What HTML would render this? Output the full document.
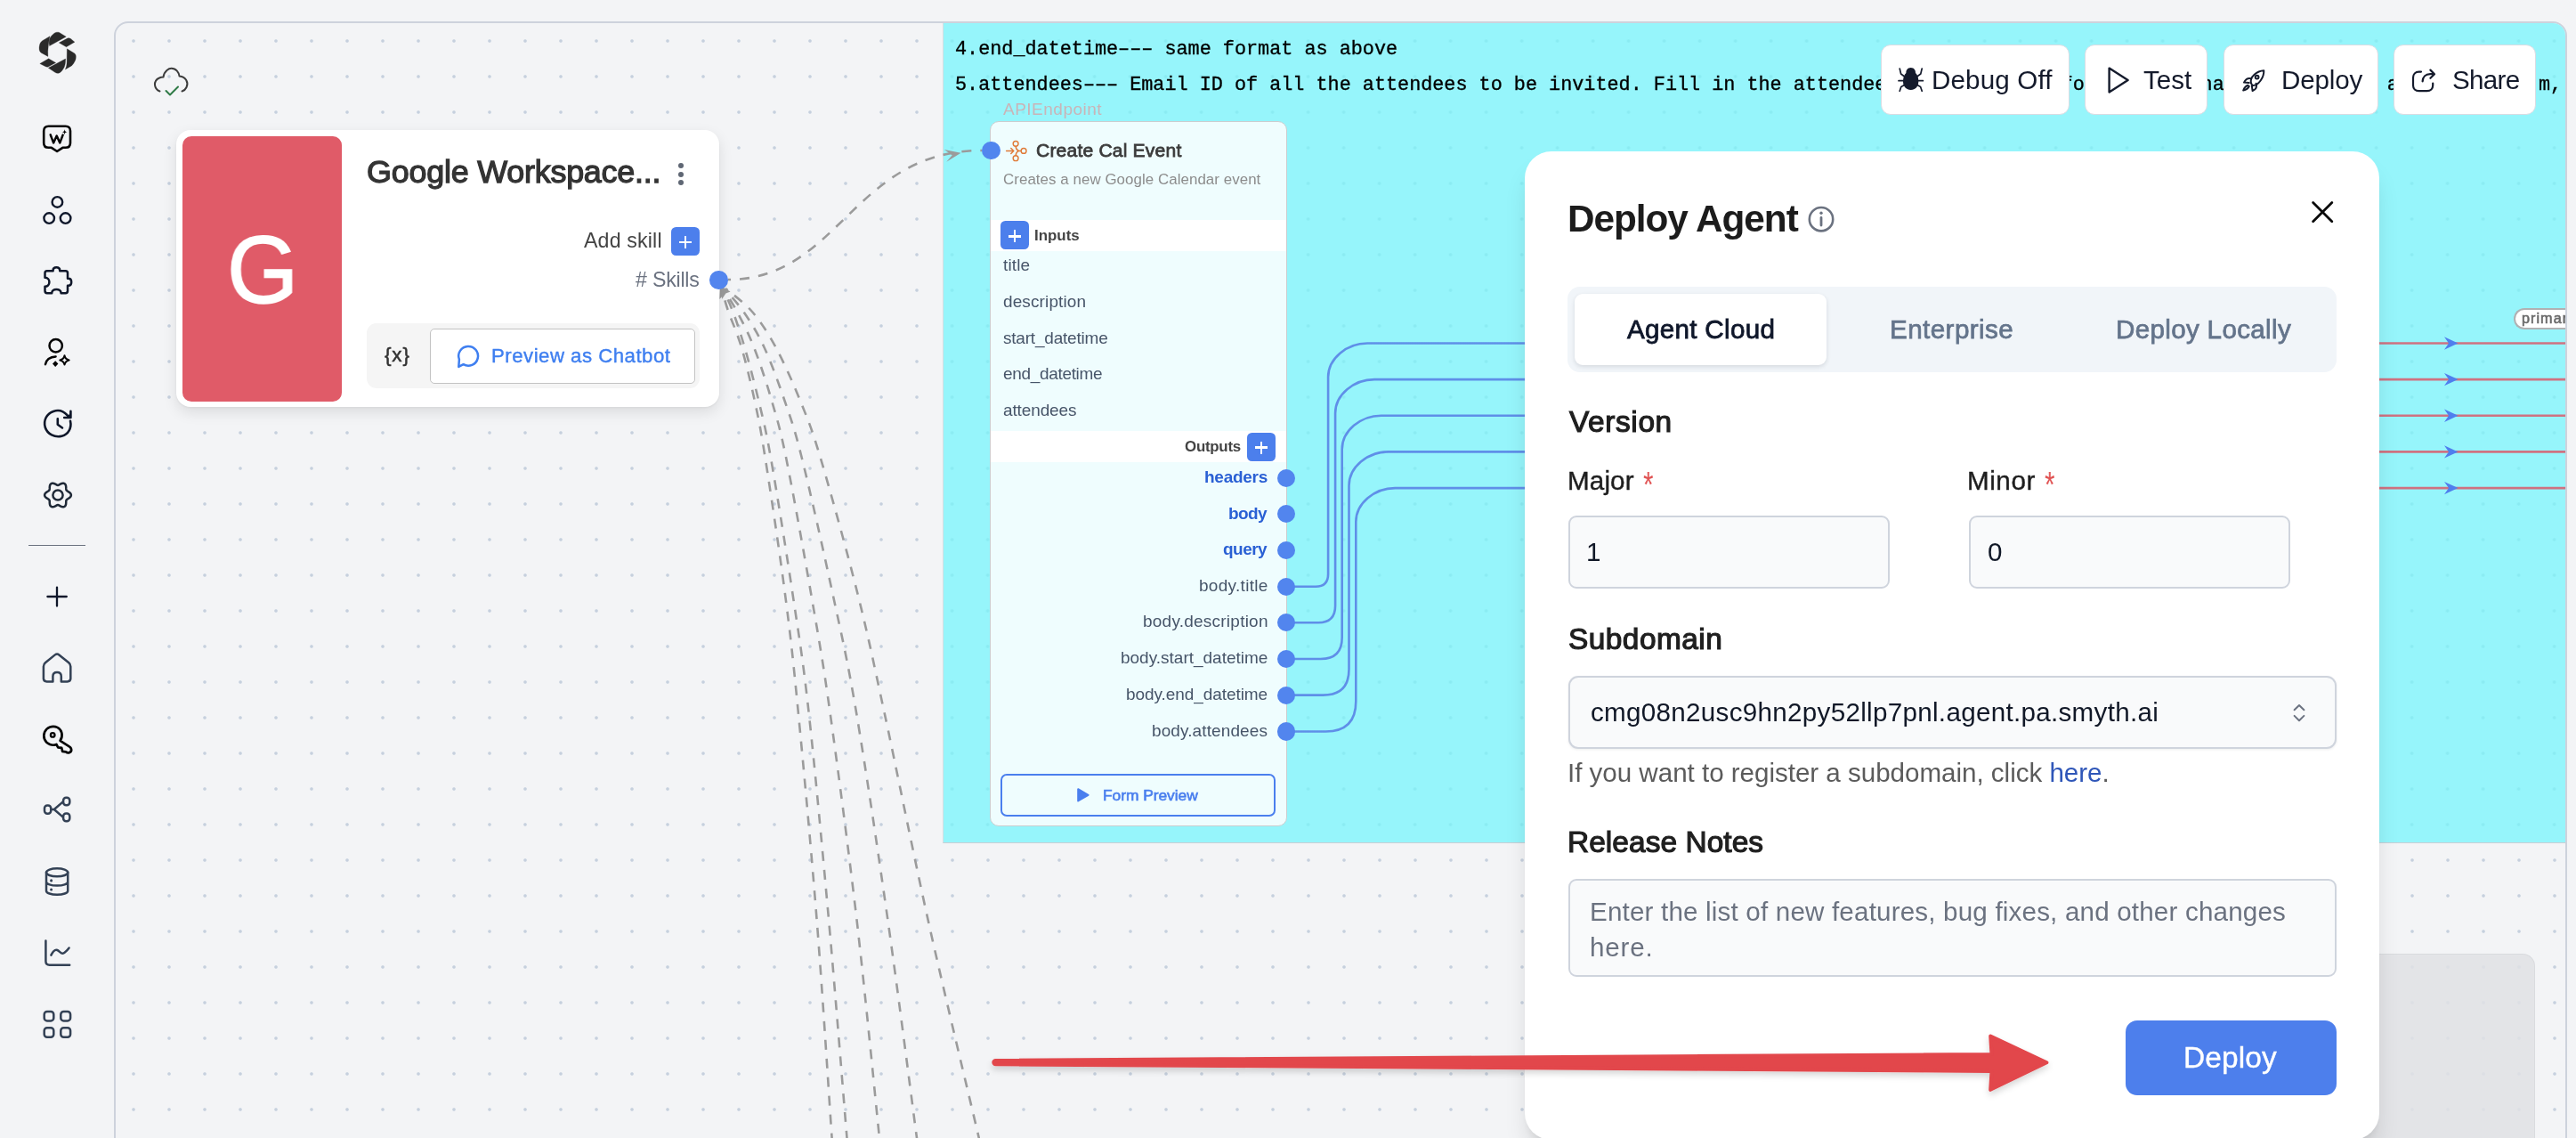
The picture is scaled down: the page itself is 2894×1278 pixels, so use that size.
<!DOCTYPE html>
<html><head><meta charset="utf-8"><title>Deploy Agent</title>
<style>
*{box-sizing:border-box;margin:0;padding:0}
html,body{width:2894px;height:1278px;overflow:hidden;background:#f3f4f6;font-family:"Liberation Sans",sans-serif}
.abs,.t,svg.ov{position:absolute}
.t{white-space:pre;line-height:normal;font-family:"Liberation Sans",sans-serif;will-change:transform}
.m{font-family:"Liberation Mono",monospace;-webkit-text-stroke:.35px #000}
#canvas{position:absolute;left:128px;top:24px;width:2756px;height:1320px;border:2px solid #cdd2dc;border-radius:16px;overflow:hidden;
 background-color:#f3f4f6;background-image:radial-gradient(circle at 20px 20px,#c6d0de 0,#c6d0de 1.25px,rgba(198,208,222,0) 2.3px);background-size:40px 40px}
#note{position:absolute;left:929.4px;top:0;width:1830px;height:921px;border-left:1px solid #d9dde2;border-bottom:1px solid #c9ced4;
 background-color:#96f5fb;background-image:radial-gradient(circle at 20px 20px,#8aebf2 0,#8aebf2 1.25px,rgba(138,235,242,0) 2.3px);background-size:40px 40px;background-position:-10.4px 0}
.card{background:#fff;border-radius:16px;box-shadow:0 6px 16px rgba(0,0,0,.10),0 1px 3px rgba(0,0,0,.06)}
.blue{background:#4d7fec}
.dot{position:absolute;width:20.5px;height:20.5px;border-radius:50%;background:#5285ee}
.plus{position:absolute;width:32.4px;height:32px;border-radius:5.5px;background:#4c7fec}
.plus:before,.plus:after{content:"";position:absolute;background:#fff;left:50%;top:50%}
.plus:before{width:14px;height:2.4px;margin:-0.2px 0 0 -7px}
.plus:after{width:2.4px;height:14px;margin:-6px 0 0 -1.2px}
.tb{position:absolute;top:50.4px;height:79px;background:#fff;border:1.5px solid #d9dce3;border-radius:11px}
.inp{position:absolute;background:#f9fafb;border:2px solid #cfd4dd;border-radius:9px}
</style></head><body>
<div id="canvas"><div id="note"></div></div>
<span class="t m" style="left:1073.00px;top:42.94px;font-size:21.8px;color:#000;">4.end_datetime&#8211;&#8211;&#8211; same format as above</span>
<span class="t m" style="left:1073.00px;top:82.84px;font-size:21.8px;color:#000;">5.attendees&#8211;&#8211;&#8211; Email ID of all the attendees to be invited. Fill in the attendees email in the format like name@gmail.com, abcd@gmail.c m,</span>
<svg class="ov" style="left:0;top:0" width="128" height="1278" viewBox="0 0 128 1278">
<!-- logo -->
<g fill="#2a2a2a" stroke="#2a2a2a" stroke-width=".3" stroke-linejoin="round">
<path d="M55.6 51.6 C54.4 46.8 55.4 43.2 57.4 40.8 C59.4 38.4 61.2 37 62.6 36.5 C64 36 65.6 36 66.6 36.5 L74.3 41.2 Z"/>
<path d="M66.3 48 L75.7 43.1 C77 42.6 78.4 42.8 79.4 43.5 L83.9 47.2 L74.5 52.7 Z"/>
<path d="M75.3 54.8 L83 59.4 C84.6 60.4 85.3 61.6 85.3 63.4 C85.3 65.6 85 67 84.2 68.6 C83.2 70.8 82 72.6 80.4 73.9 L73.3 78 C74.6 75.2 75 72.6 75.1 70 Z"/>
<path d="M73.6 66 C73.6 69 73.4 71.4 72.8 73.6 C72 76.4 70.8 78.2 69.2 79.9 C67.8 81.3 66.4 82.2 64.8 82.3 C63.8 82.3 62.8 81.9 61.8 81.3 L54.3 76.3 Z"/>
<path d="M44.8 71.5 L54.6 65.8 L62.7 70.5 L54.2 75 C53.2 75.4 52.2 75.2 51.2 74.7 Z"/>
<path d="M56 40.7 L47.6 45.7 C46 46.8 45 48.4 44.5 50.6 C44 52.6 44 54.4 44.2 56 C44.5 57.6 45.2 58.6 46.6 59.4 L53.9 63.4 C53.6 59.4 53.7 55.4 54.3 51.4 C54.6 47.8 55.2 44.2 56 40.7 Z"/>
</g>
<!-- W chat -->
<g fill="none" stroke-linecap="round" stroke-linejoin="round" stroke="#050505" stroke-width="2.6">
<path d="M54.6 141.7 H73.6 C77 141.7 79 143.7 79 147.1 V160.4 C79 163.8 77 165.8 73.6 165.8 H70.4 L64.1 170 L57.8 165.8 H54.6 C51.2 165.8 49.2 163.8 49.2 160.4 V147.1 C49.2 143.7 51.2 141.7 54.6 141.7 Z"/>
<path d="M56.7 151.4 L60.1 160.4 L63.7 152.6 L67.3 160.4 L70.6 151.6" stroke-width="2.5"/>
</g>
<path d="M72.6 145.2 C72.9 147.4 73.5 148 75.7 148.3 C73.5 148.6 72.9 149.2 72.6 151.4 C72.3 149.2 71.7 148.6 69.5 148.3 C71.7 148 72.3 147.4 72.6 145.2 Z" fill="#050505"/>
<!-- three circles -->
<g fill="none" stroke-linecap="round" stroke-linejoin="round" stroke="#0f172a" stroke-width="2.4"><circle cx="64.4" cy="226.9" r="5.8"/><circle cx="55.2" cy="245.1" r="5.8"/><circle cx="73.6" cy="245.1" r="5.8"/></g>
<!-- puzzle -->
<path fill="none" stroke-linecap="round" stroke-linejoin="round" stroke="#0f172a" stroke-width="2.5" d="M59.6 304.2 V303.6 C59.6 301.2 61.4 300.2 63.4 300.2 C65.4 300.2 67.2 301.2 67.2 303.6 V304.2 H73.6 C75.2 304.2 76 305 76 306.6 V312.8 H76.8 C79.2 312.8 80.2 314.8 80.2 316.8 C80.2 318.8 79.2 320.8 76.8 320.8 H76 V326.8 C76 328.4 75.2 329.2 73.6 329.2 H68.6 C68.6 326.4 66.2 324.9 63.4 324.9 C60.6 324.9 58.2 326.4 58.2 329.2 H52.9 C51.3 329.2 50.5 328.4 50.5 326.8 V321.8 C53.6 321.8 55.4 319.6 55.4 316.8 C55.4 314 53.6 311.8 50.5 311.8 V306.6 C50.5 305 51.3 304.2 52.9 304.2 Z"/>
<!-- user + sparkle -->
<g fill="none" stroke-linecap="round" stroke-linejoin="round" stroke="#050505" stroke-width="2.5"><circle cx="62.7" cy="388.3" r="7.2"/><path d="M51 409.2 C51.6 404.4 56 400.6 62.6 400.4"/>
<path d="M72.5 399.2 C73.2 402.6 74.3 403.7 77.7 404.4 C74.3 405.1 73.2 406.2 72.5 409.6 C71.8 406.2 70.7 405.1 67.3 404.4 C70.7 403.7 71.8 402.6 72.5 399.2 Z" stroke-width="2"/></g>
<path d="M62.2 405.2 L65.4 408.6 L62.2 412 L59 408.6 Z" fill="#050505"/>
<!-- clock/history -->
<g fill="none" stroke-linecap="round" stroke-linejoin="round" stroke="#0f172a" stroke-width="2.6"><path d="M79 472.8 C80.8 480.8 76.6 488 69.4 489.8 C61.4 491.8 53.2 487.4 50.8 480 C48.4 472.4 52.4 464.4 60 461.9 C65.6 460.1 71.6 461.8 75.4 466.2 L77.6 468.6"/>
<path d="M64.8 470.2 V476.8 L70 480.5"/></g>
<path d="M79.4 461.8 V469 H72.2" fill="none" stroke="#0f172a" stroke-width="2.6" stroke-linecap="round" stroke-linejoin="round"/><path d="M79.4 463.5 V469 H74.4 Z" fill="#0f172a"/>
<!-- gear -->
<g fill="none" stroke-linecap="round" stroke-linejoin="round" stroke="#1f2937" stroke-width="2.5"><circle cx="65" cy="556" r="5.6"/><path d="M79.90 556.00 L79.72 556.97 L79.22 557.87 L78.46 558.68 L77.56 559.36 L76.62 559.94 L75.77 560.46 L75.09 560.97 L74.61 561.55 L74.35 562.25 L74.25 563.10 L74.23 564.09 L74.19 565.19 L74.05 566.32 L73.73 567.38 L73.20 568.27 L72.45 568.90 L71.53 569.23 L70.49 569.25 L69.41 569.00 L68.36 568.56 L67.39 568.04 L66.52 567.56 L65.74 567.22 L65.00 567.10 L64.26 567.22 L63.48 567.56 L62.61 568.04 L61.64 568.56 L60.59 569.00 L59.51 569.25 L58.47 569.23 L57.55 568.90 L56.80 568.27 L56.27 567.38 L55.95 566.32 L55.81 565.19 L55.77 564.09 L55.75 563.10 L55.65 562.25 L55.39 561.55 L54.91 560.97 L54.23 560.46 L53.38 559.94 L52.44 559.36 L51.54 558.68 L50.78 557.87 L50.28 556.97 L50.10 556.00 L50.28 555.03 L50.78 554.13 L51.54 553.32 L52.44 552.64 L53.38 552.06 L54.23 551.54 L54.91 551.03 L55.39 550.45 L55.65 549.75 L55.75 548.90 L55.77 547.91 L55.81 546.81 L55.95 545.68 L56.27 544.62 L56.80 543.73 L57.55 543.10 L58.47 542.77 L59.51 542.75 L60.59 543.00 L61.64 543.44 L62.61 543.96 L63.48 544.44 L64.26 544.78 L65.00 544.90 L65.74 544.78 L66.52 544.44 L67.39 543.96 L68.36 543.44 L69.41 543.00 L70.49 542.75 L71.53 542.77 L72.45 543.10 L73.20 543.73 L73.73 544.62 L74.05 545.68 L74.19 546.81 L74.23 547.91 L74.25 548.90 L74.35 549.75 L74.61 550.45 L75.09 551.03 L75.77 551.54 L76.62 552.06 L77.56 552.64 L78.46 553.32 L79.22 554.13 L79.72 555.03 Z"/></g>
<!-- plus -->
<path fill="none" stroke-linecap="round" stroke-linejoin="round" stroke="#0f172a" stroke-width="2.3" d="M64 659.6 V680.6 M53.4 670 H74.8"/>
<!-- home -->
<path fill="none" stroke-linecap="round" stroke-linejoin="round" stroke="#334155" stroke-width="2.5" d="M59.4 765.4 H52.6 C50.2 765.4 48.9 764.1 48.9 761.7 V748.4 C48.9 746.6 49.5 745.4 50.9 744.3 L61.8 735.4 C63.3 734.2 64.9 734.2 66.4 735.4 L77.3 744.3 C78.7 745.4 79.3 746.6 79.3 748.4 V761.7 C79.3 764.1 78 765.4 75.6 765.4 H68.8 V759.6 C68.8 756.6 66.8 754.9 64.1 754.9 C61.4 754.9 59.4 756.6 59.4 759.6 Z"/>
<!-- key -->
<g fill="none" stroke-linecap="round" stroke-linejoin="round" stroke="#050505" stroke-width="2.7"><path d="M67.6 831.8 C71.4 826.2 69.6 819.4 64.4 816.9 C59 814.3 52.6 816.6 50.2 822 C47.8 827.6 50.4 833.8 56 836 C58.6 837 61.2 836.9 63.4 836 L65.2 839.3 L69.2 839.9 L70.2 843.8 L74 844.3 C75.2 845.5 76.8 845.7 78.2 845 C79.8 844.2 80.6 842.4 79.8 840.4 C79.4 839.4 78.8 838.9 77.8 838.3 Z"/>
<circle cx="59.2" cy="825.4" r="2.3" stroke-width="2.3"/></g>
<!-- share nodes -->
<g fill="none" stroke-linecap="round" stroke-linejoin="round" stroke="#334155" stroke-width="2.5"><rect x="50" y="904.4" width="7.2" height="9.4" rx="3.2"/><rect x="71.1" y="895.7" width="7.2" height="8.6" rx="3.2"/><rect x="71.1" y="913.5" width="7.2" height="8.8" rx="3.2"/><path d="M57.4 909 H60.8 M70.8 900.4 L60.8 909 L70.8 917.6"/></g>
<!-- database -->
<g fill="none" stroke-linecap="round" stroke-linejoin="round" stroke="#334155" stroke-width="2.5"><ellipse cx="64.1" cy="979.8" rx="12.1" ry="4.5"/><path d="M52 979.8 V1000.4 C52 1002.9 57.4 1004.8 64.1 1004.8 C70.8 1004.8 76.2 1002.9 76.2 1000.4 V979.8 M52 990.2 C52 992.7 57.4 994.6 64.1 994.6 C70.8 994.6 76.2 992.7 76.2 990.2"/><path d="M57.6 988.8 V988.9 M57.6 999 V999.1" stroke-width="3"/></g>
<!-- chart -->
<g fill="none" stroke-linecap="round" stroke-linejoin="round" stroke="#334155" stroke-width="2.5"><path d="M51.4 1056.6 V1079.6 C51.4 1082.4 52.8 1083.8 55.6 1083.8 H78.2"/><path d="M57.4 1072.6 C59.4 1068.6 62 1066 64.4 1067 C66.8 1068 68.6 1071.4 71 1070.6 C73.6 1069.8 75.6 1067.2 77.6 1064.6"/></g>
<!-- grid -->
<g fill="none" stroke-linecap="round" stroke-linejoin="round" stroke="#334155" stroke-width="2.5"><rect x="49.7" y="1136" width="10.6" height="10.4" rx="3.2"/><rect x="68.3" y="1136" width="10.8" height="10.4" rx="3.2"/><rect x="49.7" y="1154.3" width="10.6" height="10.4" rx="3.2"/><rect x="68.3" y="1154.3" width="10.8" height="10.4" rx="3.2"/></g>
</svg>
<div class="abs" style="left:32px;top:611.5px;width:64px;height:1.6px;background:#6b7280"></div>
<svg class="ov" style="left:0;top:0" width="2894" height="1278" viewBox="0 0 2894 1278">
<g fill="none" stroke="#9b9b9b" stroke-width="2.6" stroke-dasharray="11 10" stroke-dashoffset="8">
<path d="M818 314 C943 314 958 169 1103 169"/>
<path d="M811.0 325.0 C812.2 329.0 814.3 338.2 818.0 349.0 C821.7 359.8 828.0 373.2 833.0 390.0 C838.0 406.8 843.3 429.2 847.8 450.0 C852.3 470.8 854.1 479.1 859.8 515.0 C865.5 551.0 875.6 618.2 881.8 665.7 C888.0 713.2 890.8 738.4 896.8 800.0 C902.8 861.6 911.5 955.7 917.8 1035.4 C924.1 1115.1 931.5 1233.9 934.6 1278.0 C937.7 1322.1 935.9 1296.3 936.2 1300.0"/><path d="M812.0 325.0 C813.8 329.0 818.9 338.2 823.0 349.0 C827.1 359.8 831.6 373.2 836.5 390.0 C841.4 406.8 847.4 429.2 852.3 450.0 C857.2 470.8 859.8 479.1 866.1 515.0 C872.4 551.0 883.2 618.2 890.3 665.7 C897.4 713.2 901.8 738.4 908.6 800.0 C915.4 861.6 924.1 955.7 931.3 1035.4 C938.4 1115.1 947.8 1233.9 951.5 1278.0 C955.2 1322.1 953.0 1296.3 953.3 1300.0"/><path d="M813.0 325.0 C815.5 329.2 822.3 339.2 828.0 350.0 C833.7 360.8 840.5 373.3 847.0 390.0 C853.5 406.7 861.0 429.2 867.0 450.0 C873.0 470.8 876.0 479.0 883.3 515.0 C890.6 551.0 902.8 618.5 911.0 666.0 C919.2 713.5 923.9 738.4 932.5 800.0 C941.1 861.6 953.5 955.7 962.8 1035.4 C972.0 1115.1 983.4 1233.9 988.0 1278.0 C992.6 1322.1 989.9 1296.3 990.3 1300.0"/><path d="M814.0 324.5 C817.7 328.9 828.6 340.1 836.0 351.0 C843.4 361.9 850.9 373.5 858.5 390.0 C866.1 406.5 874.4 429.2 881.5 450.0 C888.6 470.8 892.0 479.0 901.0 515.0 C910.0 551.0 925.1 618.5 935.3 666.0 C945.5 713.5 951.6 738.4 962.0 800.0 C972.4 861.6 986.4 955.7 997.7 1035.4 C1009.0 1115.1 1024.1 1233.9 1030.0 1278.0 C1035.9 1322.1 1032.5 1296.3 1033.0 1300.0"/><path d="M815.0 324.0 C820.0 328.3 835.6 339.0 845.0 350.0 C854.4 361.0 862.5 373.3 871.5 390.0 C880.5 406.7 890.6 429.2 899.0 450.0 C907.4 470.8 911.3 479.0 922.0 515.0 C932.7 551.0 951.4 618.5 963.3 666.0 C975.2 713.5 980.2 738.4 993.5 800.0 C1006.8 861.6 1025.4 955.7 1043.1 1035.4 C1060.8 1115.1 1089.5 1233.9 1099.8 1278.0 C1110.1 1322.1 1104.1 1296.3 1105.0 1300.0"/>
</g>
<path d="M1079.5 171.8 L1060.8 167.9 L1069.7 174.2 L1063.3 181.7 Z" fill="#9b9b9b"/>
<g fill="#9b9b9b">
<path d="M809 321.5 L808.3 336 L813.6 330.4 L818.6 325.8 Z"/>
<path d="M810 321.5 L811 336 L815.4 329.6 L820.6 327.6 Z"/>
</g>
</svg>
<div class="abs card" style="left:198px;top:146.2px;width:610px;height:311px"></div>
<div class="abs" style="left:204.6px;top:152.9px;width:179px;height:298px;border-radius:10px;background:#e05b68"></div>
<div class="abs" style="left:412px;top:363.2px;width:374px;height:72.7px;border-radius:11px;background:#f5f5f5"></div>
<div class="abs" style="left:482.7px;top:369px;width:298.3px;height:62px;border-radius:5px;background:#fff;border:1.9px solid #c3c3c3"></div>
<div class="plus" style="left:754px;top:255.2px"></div>
<div class="dot" style="left:797.2px;top:304px"></div>
<div class="abs" style="left:761.6px;top:183.3px;width:6px;height:6px;border-radius:50%;background:#5f6774"></div>
<div class="abs" style="left:761.6px;top:192.5px;width:6px;height:6px;border-radius:50%;background:#5f6774"></div>
<div class="abs" style="left:761.6px;top:201.7px;width:6px;height:6px;border-radius:50%;background:#5f6774"></div>
<div class="abs" style="left:1112.3px;top:136.3px;width:333.4px;height:792.2px;border-radius:10px;border:1.4px solid #cbcdcf;background:#effdfe;overflow:hidden"><div class="abs" style="left:0;right:0;top:110px;height:34.4px;background:#fff"></div><div class="abs" style="left:0;right:0;top:347.2px;height:34.2px;background:#fff"></div></div>
<div class="plus" style="left:1123.8px;top:248.3px"></div>
<div class="plus" style="left:1401px;top:485.5px"></div>
<div class="dot" style="left:1103.4px;top:158.8px"></div>
<div class="abs" style="left:1124.3px;top:868.6px;width:309px;height:48px;border:2.6px solid #4a7fee;border-radius:7px"></div>
<svg class="ov" style="left:1209px;top:884px" width="16" height="18" viewBox="0 0 16 18"><path d="M2.2 2.2 L13.6 8.8 L2.2 15.4 Z" fill="#4a7fee" stroke="#4a7fee" stroke-width="2" stroke-linejoin="round"/></svg>
<svg class="ov" style="left:0;top:0" width="2882" height="1278" viewBox="0 0 2882 1278">
<defs><linearGradient id="wg" gradientUnits="userSpaceOnUse" x1="1450" y1="0" x2="2884" y2="0">
<stop offset="0" stop-color="#5f8fe8"/><stop offset="0.2" stop-color="#5f8fe8"/><stop offset="0.8" stop-color="#cf7281"/><stop offset="1" stop-color="#cf7281"/></linearGradient></defs>
<g fill="none" stroke="url(#wg)" stroke-width="2.6"><path d="M1450 658.7 H1478.1 Q1492.1 658.7 1492.1 644.7 V423.5 C1492.1 402.6 1513.0 385.5 1536.1 385.5 H2890"/><path d="M1450 699.3 H1481.1 Q1500.1 699.3 1500.1 680.3 V464.1 C1500.1 443.2 1521.0 426.1 1544.1 426.1 H2890"/><path d="M1450 740 H1483.7 Q1507.7 740 1507.7 716.0 V504.7 C1507.7 483.8 1528.6 466.7 1551.7 466.7 H2890"/><path d="M1450 780.6 H1486.5 Q1515.5 780.6 1515.5 751.6 V545.4 C1515.5 524.5 1536.4 507.4 1559.5 507.4 H2890"/><path d="M1450 821.5 H1489.3 Q1523.3 821.5 1523.3 787.5 V586.1 C1523.3 565.2 1544.2 548.1 1567.3 548.1 H2890"/></g>
<g fill="#4f7fee"><path d="M2761.5 385.5 L2746 378.3 L2751 385.5 L2746 392.7 Z"/><path d="M2761.5 426.1 L2746 418.9 L2751 426.1 L2746 433.3 Z"/><path d="M2761.5 466.7 L2746 459.5 L2751 466.7 L2746 473.9 Z"/><path d="M2761.5 507.4 L2746 500.2 L2751 507.4 L2746 514.6 Z"/><path d="M2761.5 548.1 L2746 540.9 L2751 548.1 L2746 555.3 Z"/></g>
</svg>
<div class="dot" style="left:1435.1px;top:526.6px;width:20.2px;height:20.2px"></div>
<div class="dot" style="left:1435.1px;top:567.3px;width:20.2px;height:20.2px"></div>
<div class="dot" style="left:1435.1px;top:607.9px;width:20.2px;height:20.2px"></div>
<div class="dot" style="left:1435.1px;top:648.6px;width:20.2px;height:20.2px"></div>
<div class="dot" style="left:1435.1px;top:689.2px;width:20.2px;height:20.2px"></div>
<div class="dot" style="left:1435.1px;top:729.9px;width:20.2px;height:20.2px"></div>
<div class="dot" style="left:1435.1px;top:770.5px;width:20.2px;height:20.2px"></div>
<div class="dot" style="left:1435.1px;top:811.4px;width:20.2px;height:20.2px"></div>
<div class="abs" style="left:2824px;top:345.8px;width:70px;height:24px;border-radius:12px 0 0 12px;border:2.2px solid #b0b1b3;border-right:0;background:#fff"></div>
<div class="tb" style="left:2112.5px;width:212.0px"></div>
<div class="tb" style="left:2341.6px;width:138.9px"></div>
<div class="tb" style="left:2497.7px;width:174.8px"></div>
<div class="tb" style="left:2689.4px;width:159.9px"></div>
<div class="abs" style="left:2640px;top:1071.4px;width:207.7px;height:260px;border-radius:14px;background:rgba(224,225,228,.86);border:1.5px solid rgba(10,15,30,.045)"></div>
<span class="t" style="left:2832.60px;top:348.04px;font-size:16.2px;color:#6a6a6a;letter-spacing:1.045px;-webkit-text-stroke:0.58px #6a6a6a;">primar</span>
<div class="abs" style="left:2882px;top:60px;width:12px;height:1218px;background:#f3f4f6;border-left:2px solid #cdd2dc"></div>
<div class="abs" style="left:1713px;top:170px;width:960px;height:1110px;border-radius:30px;background:#fff;box-shadow:0 20px 28px -5px rgba(0,0,0,.13),0 8px 12px -6px rgba(0,0,0,.11)"></div>
<div class="abs" style="left:1761px;top:322.4px;width:864.2px;height:95.5px;border-radius:14px;background:#f1f5f9"></div>
<div class="abs" style="left:1768.9px;top:329.8px;width:283px;height:80px;border-radius:9px;background:#fff;box-shadow:0 2px 5px rgba(15,23,42,.12)"></div>
<div class="inp" style="left:1761.7px;top:578.8px;width:361px;height:82.5px"></div>
<div class="inp" style="left:2211.7px;top:578.8px;width:361px;height:82.5px"></div>
<div class="inp" style="left:1761.7px;top:759.3px;width:863px;height:81.8px;border-radius:11px;box-shadow:0 1px 3px rgba(15,23,42,.08)"></div>
<div class="inp" style="left:1761.7px;top:986.7px;width:863px;height:110.7px"></div>
<div class="abs" style="left:2388px;top:1146px;width:237px;height:84px;border-radius:13px;background:#4d7fec"></div>
<svg class="ov" style="left:0;top:0" width="2894" height="1278" viewBox="0 0 2894 1278">
<!-- cloud saved -->
<g fill="none" stroke="#3d3d3d" stroke-width="2" stroke-linecap="round" stroke-linejoin="round">
<path d="M179.5 102.5 C173 100 171.5 91 179 87.5 C181 86.5 183 86.5 183.5 86.5 C184.5 79.5 190 76.8 192.5 76.8 C198 76.8 201 81.5 201.5 85.5 C209 86 212 93 209.5 98 C208.5 100.3 206.5 101.8 204.5 102.5"/>
<path d="M186.5 102 L191 106.5 L200 97.5" stroke="#2f7a46"/>
</g>
<!-- chatbot bubble -->
<path d="M515.9 403.6 A10.9 10.9 0 1 1 520.6 409.2 L515.3 411.9 Z" fill="none" stroke="#3f7ff0" stroke-width="2.5" stroke-linejoin="round"/>
<!-- component icon (orange) -->
<g fill="none" stroke="#e07b39" stroke-width="1.45" stroke-linecap="round" stroke-linejoin="round">
<circle cx="1141.1" cy="161.3" r="2.9"/><circle cx="1150.1" cy="169.4" r="2.9"/><circle cx="1141.1" cy="177.7" r="2.9"/>
<path d="M1130.6 169.5 H1138.4 M1135.8 166.5 L1138.8 169.5 L1135.8 172.5 M1141.1 164.4 Q1141.3 168 1144.6 169.4 H1147 M1141.1 174.6 Q1141.3 171 1144.6 169.4"/>
</g>
<!-- debug bug -->
<g fill="#151b2c" stroke="#151b2c" stroke-linecap="round">
<path d="M2146.7 76 C2150.3 76 2152.3 79 2152 82 C2155.5 85 2156.3 92.5 2154.3 96.5 C2152.3 100 2149.3 101 2146.7 101 C2144.1 101 2141.1 100 2139.1 96.5 C2137.1 92.5 2137.9 85 2141.4 82 C2141.1 79 2143.1 76 2146.7 76 Z" stroke="none"/>
<g fill="none" stroke-width="1.7"><path d="M2139 85.5 L2135.6 83 L2134.2 77 M2154.4 85.5 L2157.8 83 L2159.2 77 M2138 90.7 H2133 M2155.4 90.7 H2160.4 M2139.3 95.5 L2135.8 97.5 L2134.2 102.3 M2154.1 95.5 L2157.6 97.5 L2159.2 102.3"/></g>
</g>
<!-- test play -->
<path d="M2369.6 76.6 L2390.6 90 L2369.6 103.4 Z" fill="none" stroke="#151b2c" stroke-width="2.4" stroke-linejoin="round"/>
<!-- rocket -->
<g fill="none" stroke="#151b2c" stroke-width="2" stroke-linecap="round" stroke-linejoin="round">
<path d="M2529 93.5 C2527 86 2536 79.5 2543.3 79.2 C2543.6 86.5 2537.5 96.5 2530.5 96 Z"/>
<circle cx="2535.6" cy="86.6" r="1.9"/>
<path d="M2529.3 88.3 C2525.5 87.3 2522.5 89.5 2521 92.6 L2526.8 93 M2534.6 93.8 C2536 97.5 2534 100.5 2530.6 102 L2529.8 96.2 M2525.6 95.8 C2522.8 96.6 2521 99.4 2520.2 101.6 C2522.6 101 2525.6 99.4 2526.8 97"/>
</g>
<!-- share -->
<g fill="none" stroke="#151b2c" stroke-width="2.2" stroke-linecap="round" stroke-linejoin="round">
<path d="M2720 80.6 H2717.5 C2713.7 80.6 2711 83.3 2711 87.2 V95.8 C2711 99.7 2713.7 102.2 2717.5 102.2 H2726.7 C2730.5 102.2 2733.2 99.7 2733.2 95.8 V93.6"/>
<path d="M2721.6 91.4 C2721.8 86.6 2724.8 83.2 2730.2 83.2 H2734.6 M2730.4 78.6 L2735 83.2 L2730.4 87.8"/>
</g>
<!-- modal info -->
<circle cx="2046" cy="246.2" r="13.2" fill="none" stroke="#6b7280" stroke-width="2.6"/>
<path d="M2046 244.5 V253" stroke="#6b7280" stroke-width="2.8" stroke-linecap="round"/><circle cx="2046" cy="239.3" r="1.7" fill="#6b7280"/>
<!-- modal close -->
<path d="M2598.6 227.6 L2619.8 248.8 M2619.8 227.6 L2598.6 248.8" stroke="#0a0a0a" stroke-width="2.8" stroke-linecap="round"/>
<!-- select chevrons -->
<path d="M2577.6 797.3 L2583 792 L2588.4 797.3 M2577.6 803.9 L2583 809.2 L2588.4 803.9" fill="none" stroke="#6b7280" stroke-width="2" stroke-linecap="round" stroke-linejoin="round"/>
<!-- red arrow annotation -->
<defs><filter id="ash" x="-5%" y="-40%" width="110%" height="200%"><feDropShadow dx="0" dy="4" stdDeviation="3.5" flood-color="#000" flood-opacity=".16"/></filter></defs>
<path d="M1118.5 1190.9 L2237.5 1184 L2236.2 1163.6 L2299.4 1193.3 L2236.2 1223.8 L2237.5 1202.9 L1118.5 1195.3 A2.2 2.2 0 0 1 1118.5 1190.9 Z"
 fill="#e2464c" stroke="#e2464c" stroke-width="4" stroke-linejoin="round" filter="url(#ash)"/>
</svg>
<span class="t" style="left:255.01px;top:241.31px;font-size:107.5px;color:#fff;transform:scaleX(0.9577);transform-origin:0 0;-webkit-text-stroke:1.6px #fff;">G</span>
<span class="t" style="left:412.20px;top:172.61px;font-size:35.9px;color:#333;letter-spacing:-0.217px;-webkit-text-stroke:1.29px #333;">Google Workspace...</span>
<span class="t" style="left:655.80px;top:256.90px;font-size:23.2px;color:#444;letter-spacing:0.151px;">Add skill</span>
<span class="t" style="left:714.00px;top:300.80px;font-size:23.2px;color:#6b7280;letter-spacing:-0.222px;"># Skills</span>
<span class="t" style="left:552.40px;top:386.81px;font-size:22.2px;color:#3f7ff0;letter-spacing:0.505px;-webkit-text-stroke:.4px #3f7ff0;">Preview as Chatbot</span>
<span class="t" style="left:432.30px;top:386.44px;font-size:22.5px;color:#333;letter-spacing:0.818px;-webkit-text-stroke:.5px #333;">{x}</span>
<span class="t" style="left:1127.00px;top:111.91px;font-size:19px;color:#c9b4b8;letter-spacing:0.495px;">APIEndpoint</span>
<span class="t" style="left:1163.60px;top:157.10px;font-size:21.1px;color:#3a3a3a;letter-spacing:0.176px;-webkit-text-stroke:0.76px #3a3a3a;">Create Cal Event</span>
<span class="t" style="left:1127.00px;top:191.51px;font-size:16.9px;color:#8c8c8c;letter-spacing:0.058px;">Creates a new Google Calendar event</span>
<span class="t" style="left:1162.10px;top:254.91px;font-size:16.9px;font-weight:700;color:#444;letter-spacing:0.006px;">Inputs</span>
<span class="t" style="left:1330.50px;top:491.71px;font-size:16.9px;font-weight:700;color:#444;letter-spacing:-0.257px;">Outputs</span>
<span class="t" style="left:1126.50px;top:287.20px;font-size:19px;color:#475569;letter-spacing:0.125px;">title</span>
<span class="t" style="left:1126.50px;top:327.70px;font-size:19px;color:#475569;letter-spacing:0.118px;">description</span>
<span class="t" style="left:1126.50px;top:368.61px;font-size:19px;color:#475569;letter-spacing:-0.202px;">start_datetime</span>
<span class="t" style="left:1126.50px;top:408.61px;font-size:19px;color:#475569;letter-spacing:-0.325px;">end_datetime</span>
<span class="t" style="left:1126.50px;top:449.70px;font-size:19px;color:#475569;letter-spacing:-0.120px;">attendees</span>
<span class="t" style="left:1352.80px;top:524.80px;font-size:19px;font-weight:700;color:#2a60d4;letter-spacing:-0.268px;">headers</span>
<span class="t" style="left:1379.50px;top:565.50px;font-size:19px;font-weight:700;color:#2a60d4;letter-spacing:-0.606px;">body</span>
<span class="t" style="left:1373.50px;top:606.10px;font-size:19px;font-weight:700;color:#2a60d4;letter-spacing:-0.543px;">query</span>
<span class="t" style="left:1346.70px;top:646.80px;font-size:19px;color:#475569;letter-spacing:0.303px;">body.title</span>
<span class="t" style="left:1283.60px;top:687.40px;font-size:19px;color:#475569;letter-spacing:0.234px;">body.description</span>
<span class="t" style="left:1258.70px;top:728.10px;font-size:19px;color:#475569;letter-spacing:-0.005px;">body.start_datetime</span>
<span class="t" style="left:1264.90px;top:768.70px;font-size:19px;color:#475569;letter-spacing:-0.065px;">body.end_datetime</span>
<span class="t" style="left:1294.10px;top:809.60px;font-size:19px;color:#475569;letter-spacing:0.106px;">body.attendees</span>
<span class="t" style="left:1238.60px;top:882.55px;font-size:17.4px;color:#4a7fee;letter-spacing:-0.045px;-webkit-text-stroke:0.63px #4a7fee;">Form Preview</span>
<span class="t" style="left:2170.30px;top:73.41px;font-size:29.6px;color:#141a2b;letter-spacing:0.146px;">Debug Off</span>
<span class="t" style="left:2408.30px;top:73.41px;font-size:29.6px;color:#141a2b;letter-spacing:0.016px;">Test</span>
<span class="t" style="left:2562.90px;top:73.11px;font-size:29.6px;color:#141a2b;letter-spacing:-0.164px;">Deploy</span>
<span class="t" style="left:2755.40px;top:73.11px;font-size:29.6px;color:#141a2b;letter-spacing:-0.678px;">Share</span>
<span class="t" style="left:1760.70px;top:221.82px;font-size:42.3px;font-weight:700;color:#1c1c1c;letter-spacing:-1.028px;">Deploy Agent</span>
<span class="t" style="left:1828.40px;top:352.91px;font-size:29.6px;color:#0f172a;letter-spacing:0.298px;-webkit-text-stroke:.8px #0f172a;">Agent Cloud</span>
<span class="t" style="left:2123.30px;top:352.91px;font-size:29.6px;color:#64748b;letter-spacing:0.431px;-webkit-text-stroke:.75px #64748b;">Enterprise</span>
<span class="t" style="left:2376.70px;top:352.91px;font-size:29.6px;color:#64748b;letter-spacing:0.326px;-webkit-text-stroke:.75px #64748b;">Deploy Locally</span>
<span class="t" style="left:1762.70px;top:454.67px;font-size:33.4px;color:#1f1f1f;letter-spacing:0.633px;-webkit-text-stroke:1.20px #1f1f1f;">Version</span>
<span class="t" style="left:1760.70px;top:522.71px;font-size:29.6px;color:#1e1e1e;letter-spacing:0.139px;-webkit-text-stroke:.4px #1e1e1e;">Major</span>
<span class="t" style="left:1845.90px;top:521.80px;font-size:40px;color:#e05252;transform:scaleX(0.7400);transform-origin:0 0;">*</span>
<span class="t" style="left:2210.40px;top:522.71px;font-size:29.6px;color:#1e1e1e;letter-spacing:0.564px;-webkit-text-stroke:.4px #1e1e1e;">Minor</span>
<span class="t" style="left:2296.60px;top:521.80px;font-size:40px;color:#e05252;transform:scaleX(0.7400);transform-origin:0 0;">*</span>
<span class="t" style="left:1781.70px;top:603.11px;font-size:29.6px;color:#111827;">1</span>
<span class="t" style="left:2233.40px;top:603.11px;font-size:29.6px;color:#111827;">0</span>
<span class="t" style="left:1761.70px;top:698.67px;font-size:33.4px;color:#1f1f1f;letter-spacing:0.481px;-webkit-text-stroke:1.20px #1f1f1f;">Subdomain</span>
<span class="t" style="left:1786.90px;top:783.21px;font-size:29.6px;color:#111827;letter-spacing:0.300px;">cmg08n2usc9hn2py52llp7pnl.agent.pa.smyth.ai</span>
<span class="t" style="left:1760.70px;top:850.61px;font-size:29.6px;color:#5b5b5b;letter-spacing:-0.033px;">If you want to register a subdomain, click <span style="color:#2f56b8">here</span>.</span>
<span class="t" style="left:1760.70px;top:926.77px;font-size:33.4px;color:#1f1f1f;letter-spacing:0.082px;-webkit-text-stroke:1.20px #1f1f1f;">Release Notes</span>
<span class="t" style="left:1785.90px;top:1007.41px;font-size:29.6px;color:#6b7280;letter-spacing:0.175px;">Enter the list of new features, bug fixes, and other changes</span>
<span class="t" style="left:1785.90px;top:1046.91px;font-size:29.6px;color:#6b7280;letter-spacing:0.817px;">here.</span>
<span class="t" style="left:2453.30px;top:1168.77px;font-size:33.4px;color:#fff;letter-spacing:0.131px;-webkit-text-stroke:.4px #fff;">Deploy</span>
</body></html>
